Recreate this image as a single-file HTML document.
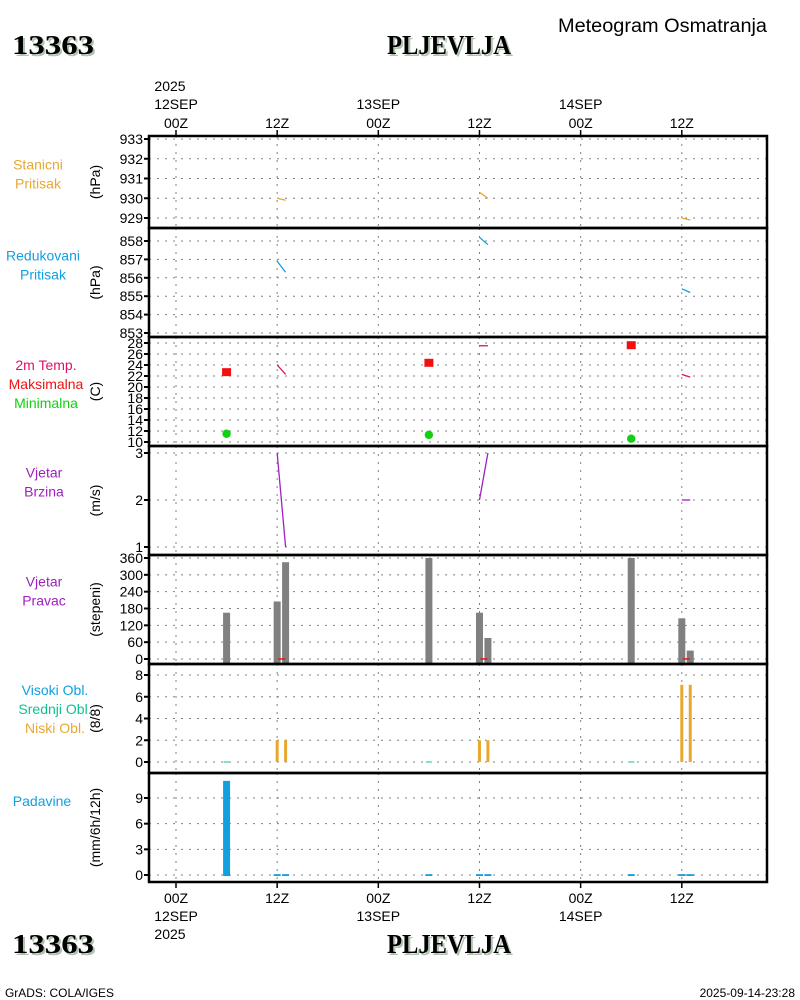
<!DOCTYPE html>
<html><head><meta charset="utf-8">
<style>
html,body{margin:0;padding:0;background:#fff;}
svg{display:block;}
text{font-family:"Liberation Sans Narrow","Liberation Sans",sans-serif;}
.t{font-size:14px;fill:#000;}
.big{font-family:"Liberation Serif",serif;font-weight:bold;font-size:27px;}
</style></head>
<body>
<svg id="chart" width="800" height="1000" viewBox="0 0 800 1000" xmlns="http://www.w3.org/2000/svg">
<rect width="800" height="1000" fill="#fff"/>
<g>
<text class="big" x="14" y="56" fill="#b0c4b0" textLength="82" lengthAdjust="spacingAndGlyphs">13363</text>
<text class="big" x="12" y="54" fill="#000" textLength="82" lengthAdjust="spacingAndGlyphs">13363</text>
<text class="big" x="389" y="56" fill="#b0c4b0" textLength="124" lengthAdjust="spacingAndGlyphs">PLJEVLJA</text>
<text class="big" x="387" y="54" fill="#000" textLength="124" lengthAdjust="spacingAndGlyphs">PLJEVLJA</text>
<text x="558" y="32" font-size="19" fill="#000" textLength="209" lengthAdjust="spacingAndGlyphs">Meteogram Osmatranja</text>
</g>
<g>
<text class="big" x="14" y="955" fill="#b0c4b0" textLength="82" lengthAdjust="spacingAndGlyphs">13363</text>
<text class="big" x="12" y="953" fill="#000" textLength="82" lengthAdjust="spacingAndGlyphs">13363</text>
<text class="big" x="389" y="955" fill="#b0c4b0" textLength="124" lengthAdjust="spacingAndGlyphs">PLJEVLJA</text>
<text class="big" x="387" y="953" fill="#000" textLength="124" lengthAdjust="spacingAndGlyphs">PLJEVLJA</text>
<text x="5" y="997" font-size="12" fill="#000" textLength="109" lengthAdjust="spacingAndGlyphs">GrADS: COLA/IGES</text>
<text x="795" y="997" font-size="12" fill="#000" text-anchor="end">2025-09-14-23:28</text>
</g>
<g id="plots"></g>
</svg>
<script>
// ---- data ----
const timeTicksH = [0, 12, 24, 36, 48, 60];
const timeTickLabels = ["00Z", "12Z", "00Z", "12Z", "00Z", "12Z"];
const dayLabels = ["12SEP", "", "13SEP", "", "14SEP", ""];
const stnPresH = [[12, 13], [36, 37], [60, 61]];
const stnPresV = [[930.0, 929.9], [930.3, 930.0], [929.0, 928.9]];
const redPresV = [[856.9, 856.3], [858.2, 857.8], [855.4, 855.2]];
const tempH = [[12, 13], [36, 37], [60, 61]];
const tempV = [[24.0, 22.3], [27.5, 27.5], [22.3, 21.8]];
const tmaxH = [6, 30, 54];
const tmaxV = [22.7, 24.4, 27.6];
const tminV = [11.5, 11.3, 10.6];
const windSpdV = [[3.0, 1.0], [2.0, 3.0], [2.0, 2.0]];
const windDirH = [6, 12, 13, 30, 36, 37, 54, 60, 61];
const windDirV = [165, 205, 345, 360, 165, 75, 360, 145, 30];
const lowCloudH = [12, 13, 36, 37, 60, 61];
const lowCloudV = [2, 2, 2, 2, 7.1, 7.1];
const precipH = [6, 12, 13, 30, 36, 37, 54, 60, 61];
const precipV = [11, 0.1, 0.1, 0.1, 0.1, 0.1, 0.1, 0.1, 0.1];

const NS = "http://www.w3.org/2000/svg";
const root = document.getElementById('plots');
const L = 149, R = 767;
const X = h => 176 + h * 8.43;
function el(tag, attrs, parent) {
  const e = document.createElementNS(NS, tag);
  for (const k in attrs) e.setAttribute(k, attrs[k]);
  (parent || root).appendChild(e);
  return e;
}
function txt(s, x, y, attrs, parent) { const t = el('text', attrs, parent); t.setAttribute('x', x); t.setAttribute('y', y); t.textContent = s; return t; }

const panels = [
  {name:'station-pressure', top:136, bot:228, min:929, max:933, t0:139, t1:218, ticks:[929,930,931,932,933], unit:'(hPa)', labels:[['Stanicni','#e8a830'],['Pritisak','#e8a830']]},
  {name:'reduced-pressure', top:228, bot:337, min:853, max:858, t0:241, t1:333, ticks:[853,854,855,856,857,858], unit:'(hPa)', labels:[['Redukovani','#10a0e0'],['Pritisak','#10a0e0']]},
  {name:'temperature', top:337, bot:446, min:10, max:28, t0:343, t1:442, ticks:[10,12,14,16,18,20,22,24,26,28], unit:'(C)', labels:[['2m Temp.','#e0106a'],['Maksimalna','#f01010'],['Minimalna','#10d010']]},
  {name:'wind-speed', top:446, bot:555, min:1, max:3, t0:453, t1:547, ticks:[1,2,3], unit:'(m/s)', labels:[['Vjetar','#a020c0'],['Brzina','#a020c0']]},
  {name:'wind-direction', top:555, bot:664, min:0, max:360, t0:558, t1:659, ticks:[0,60,120,180,240,300,360], unit:'(stepeni)', labels:[['Vjetar','#a020c0'],['Pravac','#a020c0']]},
  {name:'cloud-cover', top:664, bot:773, min:0, max:8, t0:675, t1:762, ticks:[0,2,4,6,8], unit:'(8/8)', labels:[['Visoki Obl.','#10a0e0'],['Srednji Obl.','#10c090'],['Niski Obl.','#e8a830']]},
  {name:'precipitation', top:773, bot:882, min:0, max:9, t0:798, t1:875, ticks:[0,3,6,9], unit:'(mm/6h/12h)', labels:[['Padavine','#10a0e0']]}
];
panels.forEach(p => { p.Y = v => p.t1 + (v - p.min) * (p.t0 - p.t1) / (p.max - p.min); });
const labelCY = [174, 265, 384, 482, 591, 709, 801];
const labelCX = [38, 43, 46, 44, 44, 55, 42];

panels.forEach((p, i) => {
  const g = el('g', {});
  
  
  p.ticks.forEach(v => {
    const gl = el('line', {x1:L, x2:R, y1:p.Y(v), y2:p.Y(v), stroke:'#808080', 'stroke-dasharray':'2,6'}, g);
    
    
    const tk = el('line', {x1:L-5, x2:L, y1:p.Y(v), y2:p.Y(v), stroke:'#000', 'stroke-width':2}, g);
    
    
    const tl = txt(String(v), 143, p.Y(v) + 5, {class:'t', 'text-anchor':'end'}, g);
    
    
  });
  timeTicksH.forEach(h => {
    const vg = el('line', {x1:X(h), x2:X(h), y1:p.top, y2:p.bot, stroke:'#808080', 'stroke-dasharray':'2,6'}, g);
    
    
  });
  const u = txt(p.unit, 0, 0, {class:'t', 'text-anchor':'middle', transform:`translate(100,${(p.top+p.bot)/2}) rotate(-90)`, 'font-size':15}, g);
  
  
  const n = p.labels.length, cy = labelCY[i] - (n - 1) * 9.5;
  p.labels.forEach((lb, j) => {
    const t = txt(lb[0], labelCX[i], cy + j * 19 + 5, {'font-size':14, fill:lb[1], 'text-anchor':'middle'}, g);
    
    
  });
});

function seg(p, hs, vs, color, name) {
  hs.forEach((hh, i) => {
    const l = el('line', {x1:X(hh[0]), y1:p.Y(vs[i][0]), x2:X(hh[1]), y2:p.Y(vs[i][1]), stroke:color, 'stroke-width':1.3});
    
    
  });
}
seg(panels[0], stnPresH, stnPresV, '#e8a830', 'station-pressure-line');
seg(panels[1], stnPresH, redPresV, '#10a0e0', 'reduced-pressure-line');
seg(panels[2], tempH, tempV, '#e0106a', 'temperature-line');
seg(panels[3], tempH, windSpdV, '#a020c0', 'wind-speed-line');
tmaxH.forEach((h, i) => {
  const r = el('rect', {x:X(h)-4.5, y:panels[2].Y(tmaxV[i])-4, width:9, height:8, fill:'#f01010'});
  
  
  const c = el('circle', {cx:X(h), cy:panels[2].Y(tminV[i]), r:4.2, fill:'#10d010'});
  
  
});
const pd = panels[4];
windDirH.forEach((h, i) => {
  const b = el('rect', {x:X(h)-3.5, y:pd.Y(windDirV[i]), width:7, height:pd.bot - pd.Y(windDirV[i]), fill:'#808080'});
  
  
});
[12, 36, 60].forEach(h => {
  const m = el('line', {x1:X(h)+1, x2:X(h)+8, y1:pd.Y(0), y2:pd.Y(0), stroke:'#f01010', 'stroke-width':1.5});
  
  
});
const pc = panels[5];
lowCloudH.forEach((h, i) => {
  const b = el('rect', {x:X(h)-1.5, y:pc.Y(lowCloudV[i]), width:3, height:pc.Y(0) - pc.Y(lowCloudV[i]), fill:'#e8a830'});
  
  
});
tmaxH.forEach(h => {
  const z = el('line', {x1:X(h)-3, x2:X(h)+3, y1:pc.Y(0), y2:pc.Y(0), stroke:'#10c090', 'stroke-width':1});
  
  
});
const pp = panels[6];
precipH.forEach((h, i) => {
  const y = pp.Y(precipV[i]);
  const b = el('rect', {x:X(h)-3.5, y:y, width:7, height:Math.max(1.5, pp.Y(0) - y + 1), fill:'#10a0e0'});
  
  
});

panels.forEach(p => {
  const b = el('rect', {x:L, y:p.top, width:R-L, height:p.bot-p.top, fill:'none', stroke:'#000', 'stroke-width':2.5});
  
  
});
timeTicksH.forEach((h, i) => {
  const t1 = el('line', {x1:X(h), x2:X(h), y1:130, y2:136, stroke:'#000', 'stroke-width':1.5});
  
  
  const t2 = el('line', {x1:X(h), x2:X(h), y1:882, y2:888, stroke:'#000', 'stroke-width':1.5});
  
  
  const a = txt(timeTickLabels[i], X(h), 128, {class:'t', 'text-anchor':'middle', 'font-size':15});
  
  
  const b = txt(timeTickLabels[i], X(h), 903, {class:'t', 'text-anchor':'middle', 'font-size':15});
  
  
  if (dayLabels[i]) {
    const c = txt(dayLabels[i], X(h), 109, {class:'t', 'text-anchor':'middle', 'font-size':15});
    
    
    const d = txt(dayLabels[i], X(h), 921, {class:'t', 'text-anchor':'middle', 'font-size':15});
    
    
  }
});
const y1 = txt('2025', X(0)-6, 91, {class:'t', 'text-anchor':'middle', 'font-size':15});


const y2 = txt('2025', X(0)-6, 939, {class:'t', 'text-anchor':'middle', 'font-size':15});


</script>
</body></html>
